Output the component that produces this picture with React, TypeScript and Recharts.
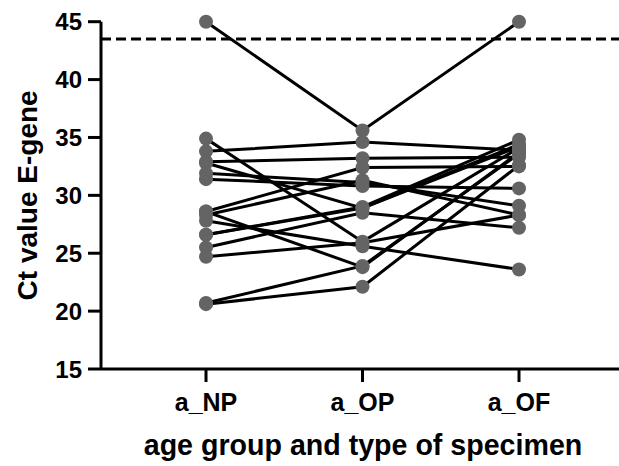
import { ComposedChart, Line, XAxis, YAxis, ReferenceLine, Label } from 'recharts';

// specimen types on the x axis
const specimens = ['a_NP', 'a_OP', 'a_OF'];

// Ct values per subject (same index = same subject)
const npValues = [45, 34.9, 33.8, 32.9, 32.8, 31.9, 31.4, 28.6, 28.3, 28.6, 27.8, 26.6, 25.5, 24.7, 20.7, 20.6, 26.6];
const opValues = [35.6, 26.0, 34.6, 33.2, 28.9, 31.1, 30.8, 32.4, 31.3, 23.8, 25.6, 28.9, 28.5, 25.9, 23.9, 22.1, 29.0];
const ofValues = [45, 34.1, 33.9, 33.3, 34.4, 29.1, 30.6, 32.5, 28.3, 33.7, 23.6, 34.2, 27.2, 28.3, 33.6, 32.6, 34.8];

const yTicks = [15, 20, 25, 30, 35, 40, 45];
const cutoff = 43.5;

const FONT = '"Liberation Sans", Arial, sans-serif';
const DOT = '#646464';

const subjects = npValues.map((np, i) => [
  { pos: 1, ct: np },
  { pos: 2, ct: opValues[i] },
  { pos: 3, ct: ofValues[i] },
]);

export default function App() {
  const tickStyle = { fill: '#000', fontSize: 24, fontWeight: 'bold', fontFamily: FONT };

  return (
    <div style={{ position: 'absolute', left: 0, top: 0, width: 619, height: 466, overflow: 'hidden', background: '#fff' }}>
      <ComposedChart width={619} height={466} margin={{ top: 21.7, right: 0, bottom: 0, left: 0 }}>
        <XAxis
          type="number"
          dataKey="pos"
          domain={[0.329, 3.639]}
          ticks={[1, 2, 3]}
          tickFormatter={(v: number) => specimens[v - 1]}
          allowDataOverflow
          height={97}
          axisLine={{ stroke: '#000', strokeWidth: 3 }}
          tickLine={{ stroke: '#000', strokeWidth: 3 }}
          tickSize={13}
          tickMargin={11}
          tick={{ ...tickStyle, fontSize: 25 }}
        >
          <Label
            value="age group and type of specimen"
            position="insideBottom"
            offset={11}
            dx={3}
            style={{ fill: '#000', fontSize: 28.6, fontWeight: 'bold', fontFamily: FONT }}
          />
        </XAxis>
        <YAxis
          type="number"
          domain={[15, 45]}
          ticks={yTicks}
          width={101}
          axisLine={{ stroke: '#000', strokeWidth: 3 }}
          tickLine={{ stroke: '#000', strokeWidth: 3 }}
          tickSize={13}
          tickMargin={6}
          tick={tickStyle}
        >
          <Label
            content={(props: any) => {
              const vb = props.viewBox || { y: 21.7, height: 347.3 };
              const cx = 37;
              const cy = vb.y + vb.height / 2;
              return (
                <text
                  x={cx}
                  y={cy}
                  transform={`rotate(-90 ${cx} ${cy})`}
                  textAnchor="middle"
                  style={{ fill: '#000', fontSize: 28, fontWeight: 'bold', fontFamily: FONT }}
                >
                  Ct value E-gene
                </text>
              );
            }}
          />
        </YAxis>
        <ReferenceLine y={cutoff} stroke="#000" strokeWidth={3} strokeDasharray="10 5" />
        {subjects.map((d, i) => (
          <Line
            key={`line-${i}`}
            data={d}
            dataKey="ct"
            type="linear"
            stroke="#000"
            strokeWidth={3}
            dot={false}
            activeDot={false}
            isAnimationActive={false}
          />
        ))}
        {subjects.map((d, i) => (
          <Line
            key={`dots-${i}`}
            data={d}
            dataKey="ct"
            stroke="none"
            dot={{ r: 7, fill: DOT, stroke: 'none' }}
            activeDot={false}
            isAnimationActive={false}
          />
        ))}
      </ComposedChart>
    </div>
  );
}
